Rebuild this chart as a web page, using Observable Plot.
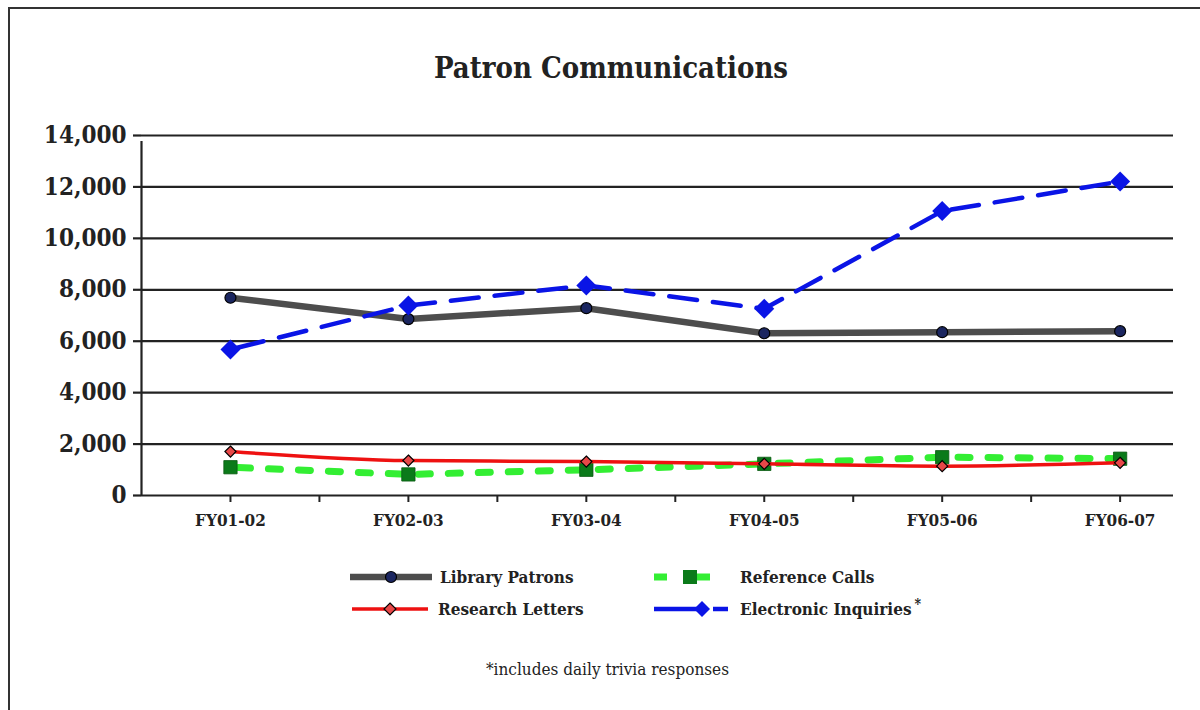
<!DOCTYPE html>
<html>
<head>
<meta charset="utf-8">
<script src="https://cdn.jsdelivr.net/npm/d3@7"></script>
<script src="https://cdn.jsdelivr.net/npm/@observablehq/plot@0.6"></script>
<style>
  html, body { margin: 0; padding: 0; background: #fff; }
  body { width: 1200px; height: 710px; position: relative; overflow: hidden;
         font-family: "DejaVu Serif Condensed", "DejaVu Serif", serif; font-stretch: condensed; color: #222; }
  #frame { position: absolute; left: 8px; top: 7px; width: 1300px; height: 800px;
           border-top: 2px solid #333; border-left: 2px solid #333; }
  #title { position: absolute; left: 0; width: 1222px; top: 51px; text-align: center;
           font-size: 29px; font-weight: bold; }
  #chart { position: absolute; left: 0; top: 110px; }
  .leg { position: absolute; font-size: 17px; font-weight: bold; white-space: nowrap; line-height: 22px; }
  .leg sup { line-height: 0; font-size: 14px; vertical-align: 6px; margin-left: 3px; }
  .sw { position: absolute; }
  #foot { position: absolute; left: 0; width: 1215px; top: 659px; text-align: center; font-size: 17px; }
</style>
</head>
<body>
<div id="frame"></div>
<div id="title">Patron Communications</div>
<div id="chart"></div>
<div id="legend"></div>
<div id="foot">*includes daily trivia responses</div>
<script>
const categories = ["FY01-02", "FY02-03", "FY03-04", "FY04-05", "FY05-06", "FY06-07"];
const libraryPatrons = [7690, 6860, 7285, 6310, 6350, 6390];
const referenceCalls = [1100, 820, 1000, 1230, 1490, 1430];
const researchLetters = [1710, 1360, 1320, 1230, 1140, 1270];
const electronicInquiries = [5680, 7390, 8170, 7260, 11060, 12210];
const yTicks = [0, 2000, 4000, 6000, 8000, 10000, 12000, 14000];

const rows = (vals) => vals.map((v, i) => ({i, v}));
const lp = rows(libraryPatrons), rc = rows(referenceCalls),
      rl = rows(researchLetters), ei = rows(electronicInquiries);
const xTicks = d3.range(0, categories.length - 0.5, 0.5);

const plot = Plot.plot({
  width: 1200,
  height: 440,
  marginLeft: 141,
  marginRight: 27,
  marginTop: 25,
  marginBottom: 55,
  style: {fontFamily: "'DejaVu Serif Condensed', 'DejaVu Serif', serif", fontStretch: "condensed", color: "#222", background: "transparent"},
  x: {type: "linear", domain: [-0.5, 5.3], axis: null},
  y: {domain: [0, 14000], axis: null},
  marks: [
    Plot.ruleY(yTicks, {stroke: "#222", strokeWidth: 2.2}),
    Plot.axisY({ticks: yTicks, tickFormat: d3.format(","), tickSize: 8, tickPadding: 7,
      fontSize: 24, fontWeight: "bold", stroke: "#222", strokeWidth: 2.2, label: null}),
    Plot.ruleX([-0.5], {stroke: "#222", strokeWidth: 2.2, y1: 0, y2: 14000, insetBottom: -6}),
    Plot.axisX({ticks: xTicks, tickFormat: d => Number.isInteger(d) ? categories[d] : "",
      tickSize: 7, tickPadding: 11, fontSize: 17, fontWeight: "bold", stroke: "#222", strokeWidth: 2, label: null}),
    // Library Patrons
    Plot.line(lp, {x: "i", y: "v", stroke: "#4d4d4d", strokeWidth: 6.5}),
    Plot.dot(lp, {x: "i", y: "v", r: 5.5, fill: "#1b2660", stroke: "#000", strokeWidth: 1.2}),
    // Reference Calls
    Plot.line(rc, {x: "i", y: "v", stroke: "#33ee33", strokeWidth: 7, strokeDasharray: "12,18", strokeDashoffset: -8}),
    Plot.dot(rc, {x: "i", y: "v", symbol: "square", r: 7.5, fill: "#0b7a1a", stroke: "#0a5a12", strokeWidth: 0.8}),
    // Research Letters
    Plot.line(rl, {x: "i", y: "v", stroke: "#ee1111", strokeWidth: 3.5, curve: "monotone-x"}),
    Plot.dot(rl, {x: "i", y: "v", symbol: "diamond2", r: 5, fill: "#e84848", stroke: "#000", strokeWidth: 1.2}),
    // Electronic Inquiries
    Plot.line(ei, {x: "i", y: "v", stroke: "#0a14e6", strokeWidth: 4.5, strokeDasharray: "28,16", strokeDashoffset: -6}),
    Plot.dot(ei, {x: "i", y: "v", symbol: "diamond2", r: 9, fill: "#0a14e6"})
  ]
});
document.getElementById("chart").appendChild(plot);

// Legend
const legend = document.getElementById("legend");
function item(left, top, svg, text, textLeft) {
  const s = document.createElement("div");
  s.className = "sw";
  s.style.left = left + "px"; s.style.top = (top - 10) + "px";
  s.innerHTML = svg;
  legend.appendChild(s);
  const t = document.createElement("div");
  t.className = "leg";
  t.style.left = textLeft + "px"; t.style.top = (top - 11) + "px";
  t.innerHTML = text;
  legend.appendChild(t);
}
item(350, 577,
  `<svg width="84" height="20"><line x1="0" y1="10" x2="82" y2="10" stroke="#4d4d4d" stroke-width="6.5"/><circle cx="41" cy="10" r="5.5" fill="#1b2660" stroke="#000" stroke-width="1.2"/></svg>`,
  "Library Patrons", 440);
item(654, 577,
  `<svg width="60" height="20"><line x1="0" y1="10" x2="13" y2="10" stroke="#33ee33" stroke-width="7"/><line x1="38" y1="10" x2="56" y2="10" stroke="#33ee33" stroke-width="7"/><rect x="29" y="3" width="14" height="14" fill="#0b7a1a"/></svg>`,
  "Reference Calls", 740);
item(352, 609,
  `<svg width="80" height="20"><line x1="0" y1="10" x2="76" y2="10" stroke="#ee1111" stroke-width="3.5"/><path d="M38,4 L44,10 L38,16 L32,10 Z" fill="#e84848" stroke="#000" stroke-width="1.2"/></svg>`,
  "Research Letters", 438);
item(654, 609,
  `<svg width="80" height="20"><line x1="0" y1="10" x2="44" y2="10" stroke="#0a14e6" stroke-width="4.5"/><path d="M48,2 L56,10 L48,18 L40,10 Z" fill="#0a14e6"/><line x1="59" y1="10" x2="74" y2="10" stroke="#0a14e6" stroke-width="4.5"/></svg>`,
  "Electronic Inquiries<sup>*</sup>", 740);
</script>
</body>
</html>
